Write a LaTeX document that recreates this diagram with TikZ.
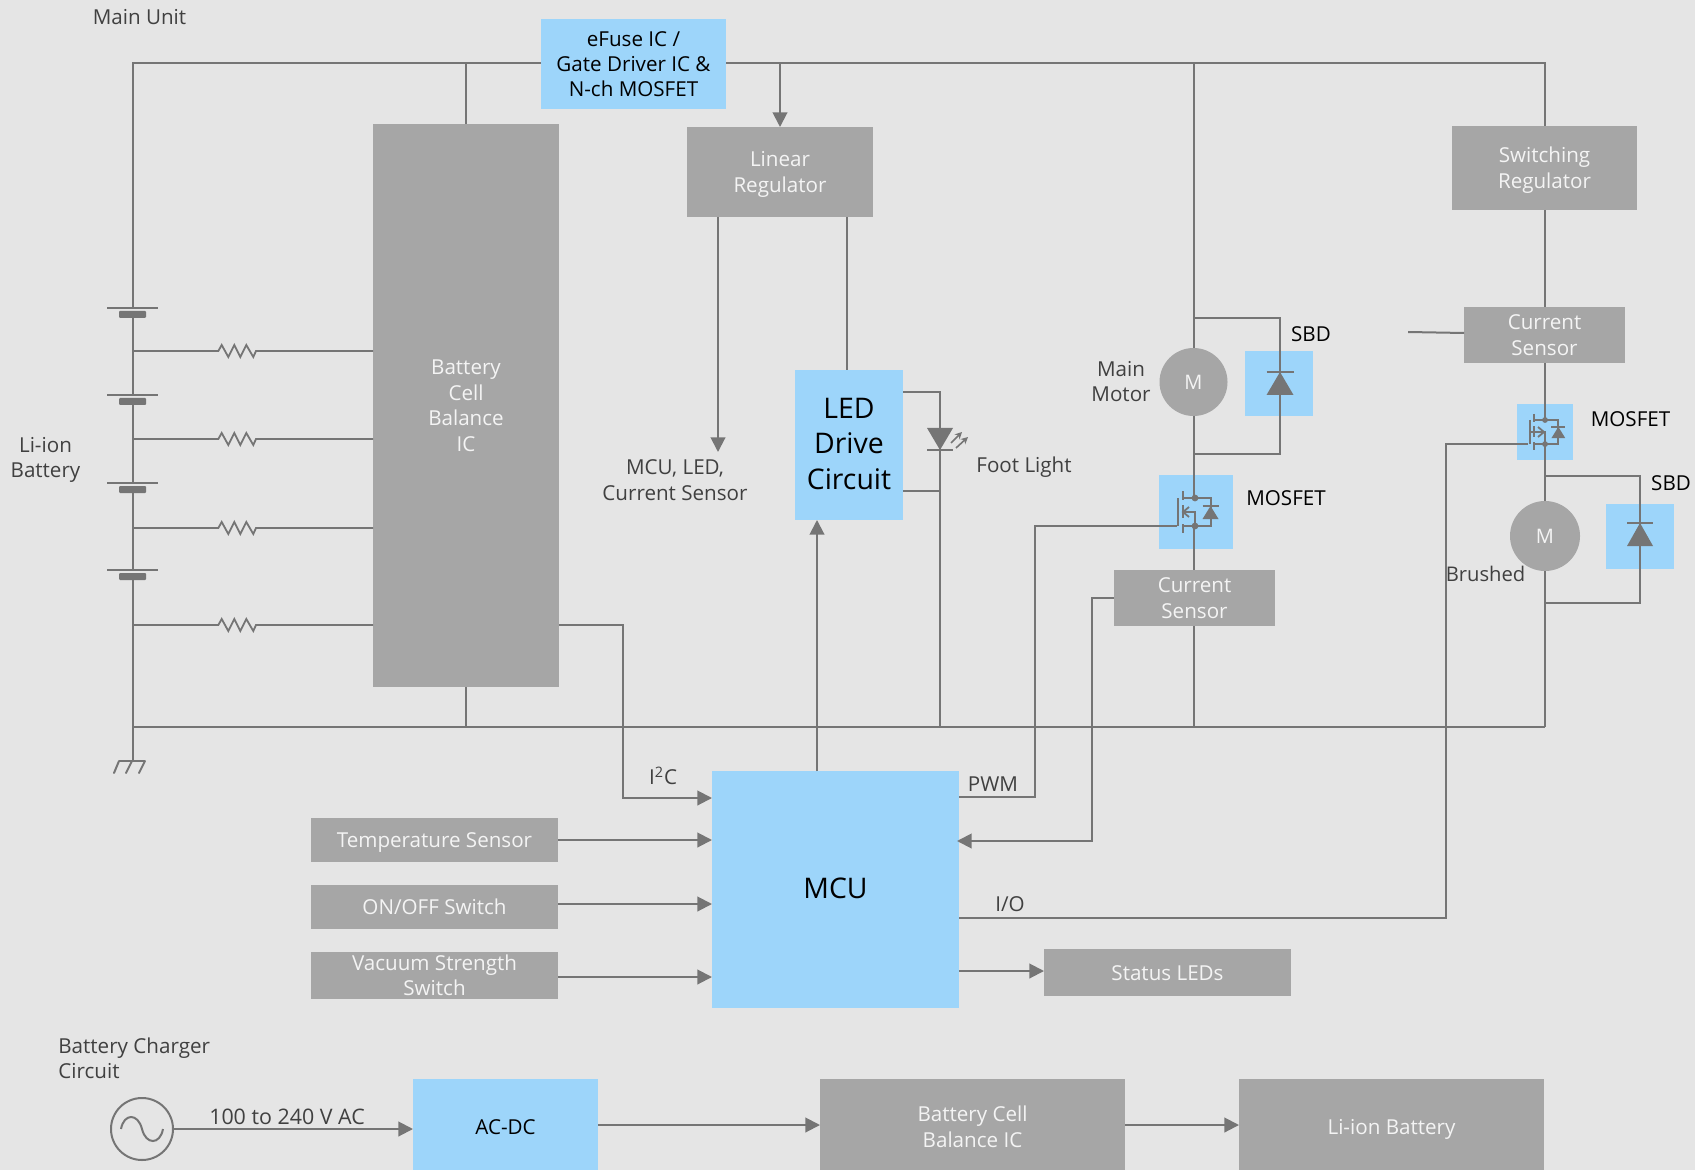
\documentclass[tikz,border=0pt]{standalone}
\usepackage{fontspec}
\setmainfont{Open Sans}
\usetikzlibrary{arrows.meta}
\definecolor{bgc}{HTML}{E5E5E5}
\definecolor{grayb}{HTML}{A6A6A6}
\definecolor{blueb}{HTML}{9DD5FA}
\definecolor{wirec}{HTML}{757575}
\definecolor{labelc}{HTML}{404040}
\definecolor{whitet}{HTML}{F4F4F4}
\newcommand{\sth}{\rule[-3.4pt]{0pt}{12.2pt}}
\tikzset{
  basebox/.style={inner sep=0pt,outer sep=0pt,align=center,font=\fontsize{10.3}{12.7}\selectfont},
  graybox/.style={basebox,fill=grayb,text=whitet},
  bluebox/.style={basebox,fill=blueb,text=black},
  bigblue/.style={bluebox,font=\fontsize{14.2}{17.9}\selectfont},
  plainblue/.style={basebox,fill=blueb},
  wire/.style={draw=wirec,line width=1pt},
  arrowwire/.style={wire,-{Triangle[length=7.3pt,width=7.3pt,fill=wirec]}},
  part/.style={fill=wirec,draw=none},
  lbl/.style={inner sep=0pt,align=center,text=labelc,font=\fontsize{10.3}{12.7}\selectfont},
  blk/.style={lbl,text=black},
  motor/.style={circle,fill=grayb,text=whitet,inner sep=0pt,outer sep=0pt,minimum size=34pt,font=\fontsize{10}{12}\selectfont},
}
\newcommand{\bx}[7]{%
  \pgfmathsetmacro\bw{(#5-#3)/2}\pgfmathsetmacro\bh{(#6-#4)/2}%
  \pgfmathsetmacro\bcx{(#3+#5)/2}\pgfmathsetmacro\bcy{(#4+#6)/2}%
  \node[#1,minimum width=\bw pt,minimum height=\bh pt] (#2) at (\bcx,\bcy) {};
  \node[#1,fill=none] (#2t) at ([yshift=-1.1pt]#2.center) {\sth #7\sth};}
\newcommand{\diodeup}[4]{% x, base y, apex y, half width
  \fill[wirec] (#1-#4,#2) -- (#1+#4,#2) -- (#1,#3) -- cycle;
  \draw[wire] (#1-#4,#3) -- (#1+#4,#3);}
\newcommand{\mosfet}[3]{% x, drain y, scale
  \begin{scope}[shift={(#1,#2)},scale=#3]
    \draw[wire] (-17.5,0) -- (-17.5,28);
    \draw[wire] (-12.5,-7) -- (-12.5,2) (-12.5,7) -- (-12.5,20) (-12.5,26) -- (-12.5,35);
    \draw[wire] (-12.5,0) -- (15.5,0) -- (15.5,28) -- (-12.5,28);
    \fill[wirec] (0,0) circle[radius=3.4] (0,28) circle[radius=3.4];
    \diodeup{15.5}{21}{8}{8}
  \end{scope}}
\begin{document}
\begin{tikzpicture}[x=.5pt,y=-.5pt]
\useasboundingbox (0,0) rectangle (1695,1170);
\fill[bgc] (0,0) rectangle (1695,1170);

% blue backgrounds first
\bx{plainblue}{dboxA}{1245}{351}{1313}{416}{}
\bx{plainblue}{dboxB}{1606}{504}{1674}{569}{}
\bx{plainblue}{qboxA}{1159}{475}{1233}{549}{}
\bx{plainblue}{qboxB}{1517}{404}{1573}{460}{}

% boxes
\bx{bluebox}{efuse}{541}{19}{726}{109}{eFuse IC /\\Gate Driver IC \&\\N-ch MOSFET}
\bx{graybox}{bcb}{373}{124}{559}{687}{Battery\\Cell\\Balance\\IC}
\bx{graybox}{linreg}{687}{127}{873}{217}{Linear\\Regulator}
\bx{graybox}{swreg}{1452}{126}{1637}{210}{Switching\\Regulator}
\bx{graybox}{csB}{1464}{307}{1625}{363}{Current\\Sensor}
\bx{graybox}{csA}{1114}{570}{1275}{626}{Current\\Sensor}
\bx{bigblue}{led}{795}{370}{903}{520}{LED\\Drive\\Circuit}
\bx{bigblue}{mcu}{712}{771}{959}{1008}{MCU}
\bx{graybox}{temp}{311}{818}{558}{862}{Temperature Sensor}
\bx{graybox}{onoff}{311}{885}{558}{929}{ON/OFF Switch}
\bx{graybox}{vac}{311}{952}{558}{999}{Vacuum Strength\\Switch}
\bx{graybox}{status}{1044}{949}{1291}{996}{Status LEDs}
\bx{bluebox}{acdc}{413}{1079}{598}{1175}{AC-DC}
\bx{graybox}{chbcb}{820}{1079}{1125}{1175}{Battery Cell\\Balance IC}
\bx{graybox}{chbat}{1239}{1079}{1544}{1175}{Li-ion Battery}
\node[motor] (mA) at (1193.5,382) {M};
\node[motor,minimum size=35pt] (mB) at (1545,536) {M};
\node[circle,draw=wirec,line width=1pt,inner sep=0pt,outer sep=0pt,minimum size=31pt] (ac) at (142,1129) {};

% named points
\coordinate (topRail) at (133,63);
\coordinate (gndTop) at (133,761);
\coordinate (railL) at (133,727);
\coordinate (railR) at (1545,727);
\coordinate (stubA) at (1408,332);
\coordinate (stubB) at (1464,333);
\coordinate (ledTop) at (940,392);
\coordinate (ledTap) at (940,491);
\coordinate (ledWire) at (940,727);
\coordinate (mcuOut) at (718,452);
\coordinate (pwmTurn) at (1035,797);
\coordinate (gateA) at (1177,526);
\coordinate (sbdAt) at (1280,318);
\coordinate (sbdAb) at (1280,454);
\coordinate (sbdBt) at (1640,476);
\coordinate (sbdBb) at (1640,603);
\coordinate (ioTurn) at (1446,918);
\coordinate (gateB) at (1528,444);
\coordinate (i2cTurn) at (623,625);
\coordinate (mainX) at (1194,0);

% top rail
\draw[wire] (efuse.west |- topRail) -- (topRail) -- (133,308);
\draw[wire] (efuse.east |- topRail) -- (railR |- topRail) -- (railR |- swreg.north);
\draw[wire] (bcb.north) -- (bcb.north |- topRail);
\draw[arrowwire] (linreg.north |- topRail) -- (linreg.north);
\draw[wire] (mA.north -| mainX) -- (mainX |- topRail);

% battery stack
\foreach \yy/\nn in {308/395,395/483,483/570}{
  \draw[wire] (107,\yy) -- (158,\yy);
  \fill[wirec,rounded corners=.5pt] (119,\yy+3) rectangle (146,\yy+10);
  \draw[wire] (133,\yy+8) -- (133,\nn);
}
\draw[wire] (107,570) -- (158,570);
\fill[wirec,rounded corners=.5pt] (119,573) rectangle (146,580);
\draw[wire] (133,578) -- (gndTop);
\draw[wire] (119,761) -- (145,761);
\draw[wire,line cap=round] (119,761) -- (114,773) (132,761) -- (126,773) (145,761) -- (139,773);

% resistor taps
\foreach \yy in {351,439,528,625}{
  \draw[wire,line width=.9pt] (133,\yy) -- (218.3,\yy) -- (221.7,\yy-6) -- (228.3,\yy+6) -- (234.3,\yy-6) -- (240.3,\yy+6) -- (246.3,\yy-6) -- (253.3,\yy+6) -- (256,\yy) -- (373,\yy);
}

% ground rail
\draw[wire] (railL) -- (railR);
\draw[wire] (bcb.south) -- (bcb.south |- railL);

% linear regulator
\draw[arrowwire] (linreg.south -| mcuOut) -- (mcuOut);
\draw[wire] (linreg.south -| 847,0) -- (led.north -| 847,0);

% LED
\draw[wire] (led.east |- ledTop) -- (ledTop) -- (ledWire);
\draw[wire] (led.east |- ledTap) -- (ledTap);
\fill[wirec] (927,428) -- (953,428) -- (940,450) -- cycle;
\draw[wire] (927,450) -- (953,450);
\draw[wirec,line width=.8pt,-{Stealth[length=3.5pt,width=3.5pt]}] (951,443) -- (962,432);
\draw[wirec,line width=.8pt,-{Stealth[length=3.5pt,width=3.5pt]}] (956,448) -- (968,437);
\draw[arrowwire] (mcu.north -| 817,0) -- (led.south -| 817,0);

% main motor branch
\draw[wire] (mA.south -| mainX) -- (mainX |- 0,498);
\draw[wire] (mainX |- 0,526) -- (csA.north -| mainX);
\draw[wire] (csA.south -| mainX) -- (railL -| mainX);
\draw[wire] (mainX |- sbdAt) -- (sbdAt) -- (sbdAb) -- (mainX |- sbdAb);
\diodeup{1280}{395}{372}{13.5}
\mosfet{1195}{498}{1}
\draw[wire] (1182,512) -- (1195,512) -- (1195,526);
\draw[wirec,line width=.9pt] (1189,507) -- (1183,512) -- (1189,517);
% main motor control
\draw[wire] (mcu.east |- pwmTurn) -- (pwmTurn) |- (gateA);
\draw[arrowwire] (csA.west) -| (1092,841) -- (957,841);

% brushed branch
\draw[wire] (railR |- swreg.south) -- (railR |- csB.north);
\draw[wire] (stubA) -- (stubB);
\draw[wire] (railR |- csB.south) -- (1545,420);
\draw[wire] (1545,444) -- (mB.north);
\draw[wire] (mB.south) -- (railR);
\draw[wire] (1545,476) -- (sbdBt) -- (sbdBb) -- (1545,603);
\diodeup{1640}{546}{523}{13}
\mosfet{1545}{420}{.86}
\draw[wire] (1531,432) -- (1545,432) -- (1545,444);
\draw[wirec,line width=.9pt] (1538,427) -- (1544,432) -- (1538,437);
\draw[wire] (mcu.east |- ioTurn) -- (ioTurn) |- (gateB);

% MCU I/O
\draw[arrowwire] (bcb.east |- i2cTurn) -- (i2cTurn) |- (mcu.west |- 0,798);
\draw[arrowwire] (temp.east) -- (mcu.west |- temp.east);
\draw[arrowwire] (onoff.east |- 0,904) -- (mcu.west |- 0,904);
\draw[arrowwire] (vac.east |- 0,977) -- (mcu.west |- 0,977);
\draw[arrowwire] (mcu.east |- 0,971) -- (status.west |- 0,971);

% charger
\draw[wire] (121,1129) .. controls (124,1113) and (138,1113) .. (142,1129) .. controls (146,1145) and (160,1145) .. (163,1129);
\draw[arrowwire] (ac.east) -- (acdc.west |- ac.east);
\draw[arrowwire] (acdc.east |- 0,1125) -- (chbcb.west |- 0,1125);
\draw[arrowwire] (chbcb.east |- 0,1125) -- (chbat.west |- 0,1125);

% labels
\node[lbl] (tMain) at (139.5,17) {Main Unit};
\node[lbl] (tLi) at (45.5,460) {Li-ion\\Battery};
\node[lbl,align=left,anchor=west] (tChg) at (58,1058) {Battery Charger\\Circuit};
\node[lbl,font=\fontsize{10.7}{13}\selectfont] (tAC) at (287,1117) {100 to 240 V AC};
\node[lbl] (tOut) at (675,480) {MCU, LED,\\Current Sensor};
\node[lbl] (tFoot) at (1024,467) {Foot Light};
\node[lbl] (tMM) at (1121,381.5) {Main\\Motor};
\node[blk] (tSa) at (1311,334) {SBD};
\node[blk] (tQa) at (1286,498) {MOSFET};
\node[blk] (tQb) at (1630.5,419) {MOSFET};
\node[blk] (tSb) at (1671,483) {SBD};
\node[lbl,font=\fontsize{10.1}{12.7}\selectfont] (tBr) at (1485.5,574) {Brushed};
\node[lbl] (tI2c) at (663,776) {I\textsuperscript{2}C};
\node[lbl] (tPwm) at (993,784) {PWM};
\node[lbl] (tIO) at (1010,904) {I/O};
\end{tikzpicture}
\end{document}
